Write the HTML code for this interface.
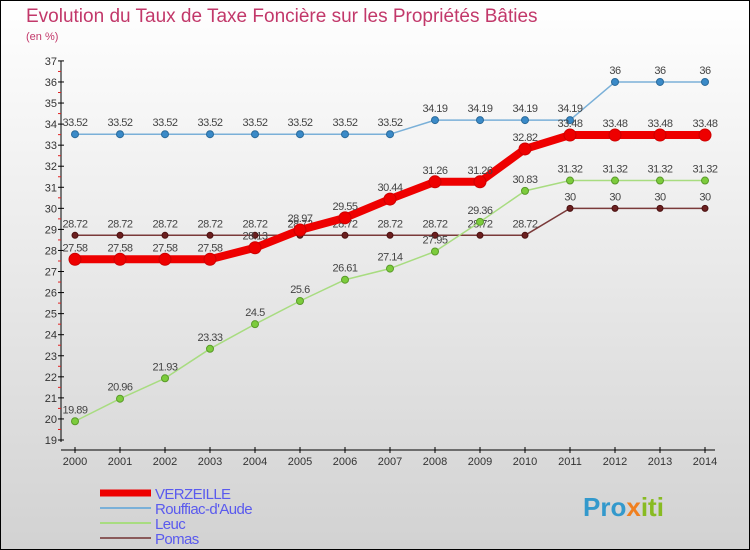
<!DOCTYPE html>
<html><head><meta charset="utf-8"><style>
body{margin:0;}
svg{display:block;font-family:"Liberation Sans",sans-serif;}
</style></head><body>
<svg id="c" width="750" height="550" viewBox="0 0 750 550">
<defs><linearGradient id="bg" x1="0" y1="0" x2="0" y2="1"><stop offset="0" stop-color="#ffffff"/><stop offset="1" stop-color="#d2d2d2"/></linearGradient></defs>
<rect x="0.5" y="0.5" width="749" height="549" fill="url(#bg)" stroke="#000"/>
<text x="26" y="22" font-size="19" fill="#c2386a">Evolution du Taux de Taxe Foncière sur les Propriétés Bâties</text>
<text x="26" y="40" font-size="11" fill="#c2386a">(en %)</text>
<g id="axes"></g>
<g id="series"></g>
<g id="legend"></g>
<text x="583" y="516" font-size="26" font-weight="bold" fill="#3399cc">Pro<tspan fill="#f08020">x</tspan><tspan fill="#88bb22">iti</tspan></text>
</svg>
<script>
const years=[2000,2001,2002,2003,2004,2005,2006,2007,2008,2009,2010,2011,2012,2013,2014];
const verzeille=[27.58,27.58,27.58,27.58,28.13,28.97,29.55,30.44,31.26,31.26,32.82,33.48,33.48,33.48,33.48];
const rouffiac=[33.52,33.52,33.52,33.52,33.52,33.52,33.52,33.52,34.19,34.19,34.19,34.19,36,36,36];
const leuc=[19.89,20.96,21.93,23.33,24.5,25.6,26.61,27.14,27.95,29.36,30.83,31.32,31.32,31.32,31.32];
const pomas=[28.72,28.72,28.72,28.72,28.72,28.72,28.72,28.72,28.72,28.72,28.72,30,30,30,30];
const yTicks=[19,20,21,22,23,24,25,26,27,28,29,30,31,32,33,34,35,36,37];
const NS="http://www.w3.org/2000/svg";
function X(i){return 75+i*45;}
function Y(v){return 440-(v-19)*21.06;}
function el(p,t,a,txt){const e=document.createElementNS(NS,t);for(const k in a)e.setAttribute(k,a[k]);if(txt!=null)e.textContent=txt;p.appendChild(e);return e;}
const ax=document.getElementById('axes');
let l=el(ax,'line',{x1:61,y1:Y(37),x2:61,y2:Y(19)+2,stroke:'#000'});


l=el(ax,'line',{x1:61,y1:450,x2:715,y2:450,stroke:'#000'});


yTicks.forEach(v=>{
 el(ax,'line',{x1:58,y1:Y(v),x2:64,y2:Y(v),stroke:'#000'});
 if(v<37)el(ax,'line',{x1:58,y1:Y(v+0.5),x2:61,y2:Y(v+0.5),stroke:'#e02020'});
 const t=el(ax,'text',{x:57,y:Y(v)+4,'font-size':11,'text-anchor':'end',fill:'#333'},v);
 
 
});
years.forEach((y,i)=>{
 el(ax,'line',{x1:X(i),y1:447,x2:X(i),y2:453,stroke:'#000'});
 const t=el(ax,'text',{x:X(i),y:465,'font-size':11,'text-anchor':'middle',fill:'#333'},y);
 
 
});
const sg=document.getElementById('series');
function draw(vals,name,col,w,r,dot,dotStroke){
 const g=el(sg,'g',{});
 
 
 el(g,'polyline',{points:vals.map((v,i)=>X(i)+','+Y(v)).join(' '),fill:'none',stroke:col,'stroke-width':w,'stroke-linejoin':'round'});
 vals.forEach((v,i)=>{
  const c=el(g,'circle',{cx:X(i),cy:Y(v),r:r,fill:dot,stroke:dotStroke,'stroke-width':1});
  
  
  const t=el(g,'text',{x:X(i),y:Y(v)-8,'font-size':11,'text-anchor':'middle',fill:'#444','letter-spacing':'-0.5'},v);
  
  
 });
}
draw(pomas,'pomas','#7a3a3a',1.5,3,'#6b1f1f','#4a1010');
draw(leuc,'leuc','#a8dc80',1.5,3.5,'#7ccc3c','#5a9a2a');
draw(rouffiac,'rouffiac','#7ab0d8',1.5,3.5,'#3a8ac8','#2a6a9a');
draw(verzeille,'verzeille','#ee0000',8,6,'#ee0000','#cc0000');
const lg=document.getElementById('legend');
const ents=[['VERZEILLE','#ee0000',7],['Rouffiac-d\'Aude','#7ab0d8',2],['Leuc','#a8dc80',2],['Pomas','#8a5a5a',2]];
ents.forEach((e,i)=>{
 const y=493+i*15;
 const g=el(lg,'g',{});
 
 
 el(g,'line',{x1:100,y1:y,x2:151,y2:y,stroke:e[1],'stroke-width':e[2]});
 el(g,'text',{x:155,y:y+6,'font-size':15,fill:'#5a5aee','letter-spacing':'-0.6'},e[0]);
});
</script>
</body></html>
